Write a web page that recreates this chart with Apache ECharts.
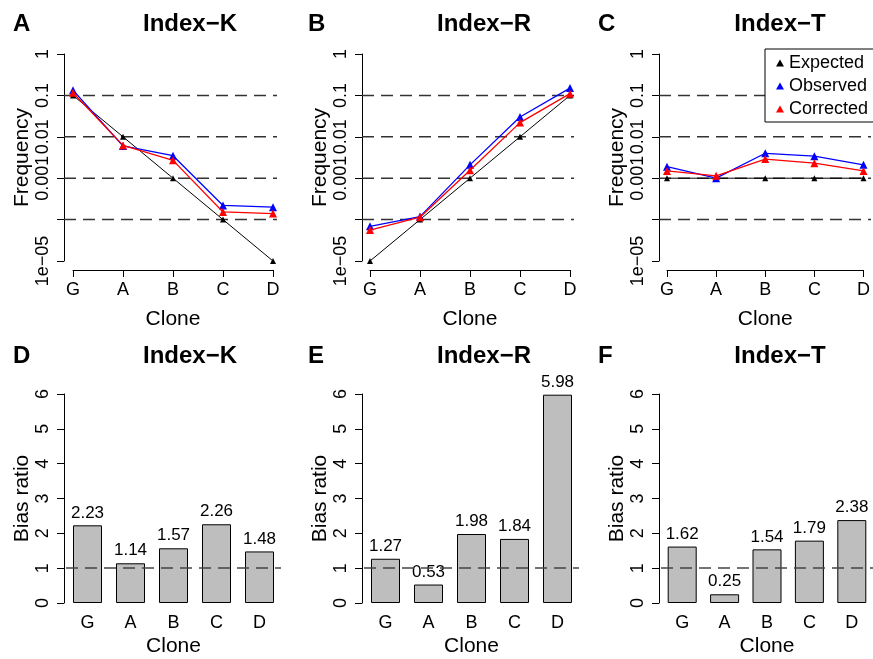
<!DOCTYPE html>
<html>
<head>
<meta charset="utf-8">
<script src="https://cdn.jsdelivr.net/npm/echarts@6/dist/echarts.min.js"></script>
<style>
  html, body { margin: 0; padding: 0; background: #fff; }
  #main { width: 873px; height: 659px; }
</style>
</head>
<body>
<div id="main"></div>
<script>
// clone order on every panel
const clones = ['G', 'A', 'B', 'C', 'D'];
const panelTitles = ['Index−K', 'Index−R', 'Index−T'];
const topLetters = ['A', 'B', 'C'];
const bottomLetters = ['D', 'E', 'F'];

// tick labels of the log axis, index = exponent + 5 (1e-04 is left unlabelled as in the figure)
const freqTickLabels = ['1e−05', '', '0.001', '0.01', '0.1', '1'];
const guideLevels = [0.1, 0.01, 0.001, 0.0001];
const biasGuide = [1];

// frequencies (top row)
const expectedK = [0.1, 0.01, 0.001, 0.0001, 0.00001];
const observedK = [0.134, 0.006, 0.0035, 0.00022, 0.0002];
const correctedK = [0.116, 0.0062, 0.0027, 0.000153, 0.00014];

const expectedR = [0.00001, 0.0001, 0.001, 0.01, 0.1];
const observedR = [0.000069, 0.000118, 0.0021, 0.03, 0.15];
const correctedR = [0.000056, 0.000114, 0.00155, 0.022, 0.11];

const expectedT = [0.001, 0.001, 0.001, 0.001, 0.001];
const observedT = [0.0019, 0.001, 0.004, 0.0034, 0.0021];
const correctedT = [0.0015, 0.00114, 0.0029, 0.0023, 0.0015];

// bias ratios (bottom row)
const biasK = [2.23, 1.14, 1.57, 2.26, 1.48];
const biasR = [1.27, 0.53, 1.98, 1.84, 5.98];
const biasT = [1.62, 0.25, 1.54, 1.79, 2.38];

const freqSets = [
  [expectedK, observedK, correctedK],
  [expectedR, observedR, correctedR],
  [expectedT, observedT, correctedT]
];
const biasSets = [biasK, biasR, biasT];
const seriesNames = ['Expected', 'Observed', 'Corrected'];
const seriesColors = ['#000000', '#0000ff', '#ff0000'];

// layout (pixels)
const topAxisX = [64, 362, 659];
const topFirstX = [73, 370, 667];
const botAxisX = [64, 362, 659];
const FONT = 'Liberation Sans, Arial, Helvetica, sans-serif';

const chart = echarts.init(document.getElementById('main'));

const grid = [], xAxis = [], yAxis = [], series = [], graphic = [];

const axisBase = {
  axisLine: { show: true, lineStyle: { color: '#000', width: 1 } },
  axisTick: { show: true, length: 7, lineStyle: { color: '#000', width: 1 } },
  splitLine: { show: false }
};
const dashStyle = { color: '#333', type: [12, 7], width: 1.5 };

for (let i = 0; i < 3; i++) {
  // ----- top: frequency panel -----
  const gMain = grid.length;
  grid.push({ left: topFirstX[i], top: 54, width: 200, height: 207 });
  xAxis.push(Object.assign({}, axisBase, {
    gridIndex: gMain, type: 'category', data: clones, boundaryGap: false, offset: 9,
    axisLabel: { fontSize: 18, color: '#000', margin: 11, fontFamily: FONT },
    name: 'Clone', nameLocation: 'middle', nameGap: 39,
    nameTextStyle: { fontSize: 21, color: '#000', fontFamily: FONT }
  }));
  yAxis.push(Object.assign({}, axisBase, {
    gridIndex: gMain, type: 'log', logBase: 10, min: 0.00001, max: 1,
    offset: topFirstX[i] - topAxisX[i],
    axisLabel: {
      rotate: 90, fontSize: 18, color: '#000', margin: 12, fontFamily: FONT,
      hideOverlap: false, showMinLabel: true, showMaxLabel: true,
      formatter: v => freqTickLabels[Math.round(Math.log10(v)) + 5]
    },
    name: 'Frequency', nameLocation: 'middle', nameGap: 26,
    nameTextStyle: { fontSize: 21, color: '#000', fontFamily: FONT }
  }));
  freqSets[i].forEach((vals, k) => {
    series.push({
      name: seriesNames[k], type: 'line', xAxisIndex: gMain, yAxisIndex: gMain,
      data: vals, symbol: 'triangle', symbolSize: k === 0 ? 6 : 8,
      lineStyle: { color: seriesColors[k], width: k === 0 ? 1 : 1.3 },
      itemStyle: { color: seriesColors[k] },
      z: 3 + k, animation: false
    });
  });

  // guide grid carrying the dashed reference lines (spans from the y axis)
  const gGuide = grid.length;
  grid.push({ left: topAxisX[i], top: 54, width: topFirstX[i] - topAxisX[i] + 204, height: 207 });
  xAxis.push({ gridIndex: gGuide, type: 'value', min: 0, max: 1, show: false });
  yAxis.push({ gridIndex: gGuide, type: 'log', logBase: 10, min: 0.00001, max: 1, show: false });
  guideLevels.forEach(v => {
    series.push({
      type: 'line', xAxisIndex: gGuide, yAxisIndex: gGuide, silent: true,
      data: [[0, v], [1, v]], symbol: 'none', lineStyle: dashStyle, z: 1, animation: false
    });
  });

  // ----- bottom: bias ratio panel -----
  const gBar = grid.length;
  grid.push({ left: botAxisX[i] + 2, top: 394, width: 215, height: 209 });
  xAxis.push({
    gridIndex: gBar, type: 'category', data: clones,
    axisLine: { show: false }, axisTick: { show: false }, splitLine: { show: false },
    axisLabel: { fontSize: 18, color: '#000', margin: 11, fontFamily: FONT },
    name: 'Clone', nameLocation: 'middle', nameGap: 33,
    nameTextStyle: { fontSize: 21, color: '#000', fontFamily: FONT }
  });
  yAxis.push(Object.assign({}, axisBase, {
    gridIndex: gBar, type: 'value', min: 0, max: 6, interval: 1, offset: 2,
    axisLabel: { rotate: 90, fontSize: 18, color: '#000', margin: 12, fontFamily: FONT },
    name: 'Bias ratio', nameLocation: 'middle', nameGap: 27,
    nameTextStyle: { fontSize: 21, color: '#000', fontFamily: FONT }
  }));
  series.push({
    type: 'bar', xAxisIndex: gBar, yAxisIndex: gBar, data: biasSets[i], barWidth: 29,
    itemStyle: { color: '#bebebe', borderColor: '#000', borderWidth: 1 },
    label: {
      show: true, position: 'top', distance: 4, fontSize: 17, color: '#000', fontFamily: FONT,
      formatter: p => p.value.toFixed(2)
    },
    markLine: {
      symbol: 'none', silent: true, label: { show: false }, animation: false,
      lineStyle: { color: '#444', type: [12, 7], width: 1.5 },
      data: biasGuide.map(v => ({ yAxis: v }))
    },
    animation: false
  });
}

// panel letters and titles
const titleCx = [190, 484, 780];
const letterX = [13, 308, 598];
[[24, topLetters], [356, bottomLetters]].forEach(([cy, letters]) => {
  for (let i = 0; i < 3; i++) {
    graphic.push({
      type: 'text', x: letterX[i], y: cy,
      style: { text: letters[i], font: 'bold 24px ' + FONT, fill: '#000',
        align: 'left', verticalAlign: 'middle', textAlign: 'left', textVerticalAlign: 'middle' }
    });
    graphic.push({
      type: 'text', x: titleCx[i], y: cy,
      style: { text: panelTitles[i], font: 'bold 24px ' + FONT, fill: '#000',
        align: 'center', verticalAlign: 'middle', textAlign: 'center', textVerticalAlign: 'middle' }
    });
  }
});

chart.setOption({
  animation: false,
  backgroundColor: '#fff',
  textStyle: { fontFamily: FONT },
  grid: grid,
  xAxis: xAxis,
  yAxis: yAxis,
  legend: {
    data: seriesNames, orient: 'vertical', left: 765, top: 49,
    icon: 'triangle', itemWidth: 8, itemHeight: 7, itemGap: 5,
    padding: [5, 12, 4, 11], borderColor: '#000', borderWidth: 1, borderRadius: 0,
    selectedMode: false, backgroundColor: '#fff',
    textStyle: { fontSize: 18, color: '#000', fontFamily: FONT, lineHeight: 18 }
  },
  graphic: graphic,
  series: series
});
</script>
</body>
</html>
